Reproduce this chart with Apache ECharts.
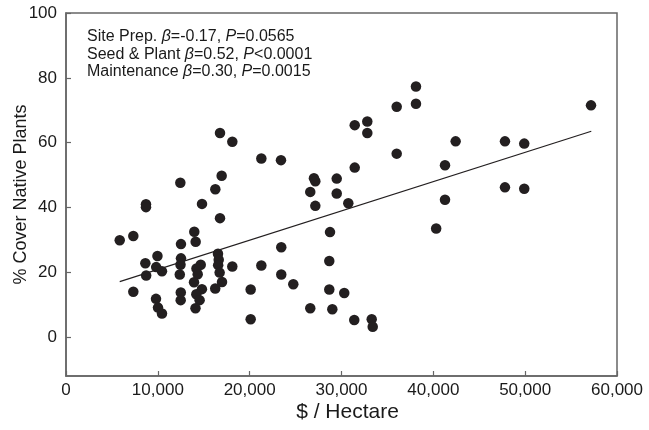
<!DOCTYPE html>
<html>
<head>
<meta charset="utf-8">
<script src="https://cdn.jsdelivr.net/npm/echarts@6/dist/echarts.min.js"></script>
<style>
  html, body { margin: 0; padding: 0; background: #fff; }
  #chart { width: 649px; height: 430px; }
</style>
</head>
<body>
<div id="chart"></div>
<script>
// $ per hectare vs % cover of native plants
var costX = [
  16770, 18110, 21270, 16950, 12450, 16260, 8710, 8710, 14810, 16770,
  5850, 7330, 13970, 14120, 12520, 9960, 8640, 9820, 10450, 8730,
  12520, 12470, 12390, 14670, 14210, 14340, 16550, 16630, 16570, 16730,
  16990, 16250, 18110, 21270, 13940, 14800, 14190, 14550, 14100, 12500,
  12490, 7330, 9800, 10020, 10450, 20110, 20110, 38110, 38110, 36010,
  31440, 32810, 32810, 36010, 23410, 31440, 27000, 27150, 29480, 26600,
  29480, 27150, 30740, 40310, 28750, 23440, 28670, 23440, 24750, 28670,
  30300, 26600, 29000, 31390, 33290, 33400, 57170, 42430, 47800, 49900,
  41270, 41270, 47800, 49900
];
var coverY = [
  63.0, 60.3, 55.1, 49.8, 47.6, 45.6, 41.0, 40.1, 41.1, 36.7,
  29.9, 31.2, 32.5, 29.4, 28.7, 25.0, 22.8, 21.6, 20.3, 19.0,
  24.3, 22.3, 19.3, 22.3, 21.2, 19.4, 25.7, 23.9, 22.2, 19.9,
  17.0, 15.0, 21.8, 22.1, 16.9, 14.8, 13.2, 11.4, 8.9, 13.8,
  11.4, 14.0, 11.8, 9.1, 7.3, 14.7, 5.5, 77.3, 72.0, 71.1,
  65.4, 66.5, 63.0, 56.6, 54.6, 52.3, 49.0, 48.1, 48.9, 44.8,
  44.3, 40.5, 41.3, 33.5, 32.4, 27.7, 23.5, 19.3, 16.3, 14.7,
  13.6, 8.9, 8.6, 5.3, 5.5, 3.2, 71.5, 60.4, 60.4, 59.7,
  53.0, 42.4, 46.2, 45.8
];
// fitted line end points
var fitX = [5850, 57200];
var fitY = [17.1, 63.5];

var yTicks = [0, 20, 40, 60, 80, 100];

var statLines = [
  'Site Prep. {i|β}=-0.17, {i|P}=0.0565',
  'Seed & Plant {i|β}=0.52, {i|P}<0.0001',
  'Maintenance {i|β}=0.30, {i|P}=0.0015'
];

var points = costX.map(function (x, i) { return [x, coverY[i]]; });
var fit = fitX.map(function (x, i) { return [x, fitY[i]]; });

var chart = echarts.init(document.getElementById('chart'));
var font = 'Liberation Sans, Arial, sans-serif';
var ink = '#1a1a1a';
chart.setOption({
  animation: false,
  textStyle: { fontFamily: font },
  title: {
    text: statLines.join('\n'),
    left: 82,
    top: 23,
    textStyle: {
      fontFamily: font,
      fontSize: 16,
      fontWeight: 'normal',
      color: ink,
      lineHeight: 17.5,
      rich: {
        i: { fontFamily: font, fontSize: 16, fontStyle: 'italic', color: ink, lineHeight: 17.5 }
      }
    }
  },
  grid: {
    left: 66, right: 32, top: 13, bottom: 54,
    show: true, borderColor: '#666', borderWidth: 1.5
  },
  xAxis: {
    type: 'value',
    min: 0, max: 60000, interval: 10000,
    name: '$ / Hectare',
    nameLocation: 'middle',
    nameGap: 26,
    nameMoveOverlap: false,
    nameTextStyle: { fontFamily: font, fontSize: 21, color: ink, padding: [0, 0, 0, 12] },
    axisLine: { show: true, onZero: false, lineStyle: { color: '#666', width: 1.5 } },
    axisTick: { show: true, inside: true, length: 5, lineStyle: { color: '#666', width: 1.2 } },
    axisLabel: {
      fontFamily: font, fontSize: 17, color: ink, margin: 6,
      formatter: function (v) { return v.toString().replace(/\B(?=(\d{3})+(?!\d))/g, ','); }
    },
    splitLine: { show: false }
  },
  yAxis: {
    type: 'value',
    min: -12, max: 100,
    name: '% Cover Native Plants',
    nameLocation: 'middle',
    nameGap: 36,
    nameRotate: 90,
    nameMoveOverlap: false,
    nameTextStyle: { fontFamily: font, fontSize: 18, color: ink },
    axisLine: { show: true, onZero: false, lineStyle: { color: '#666', width: 1.5 } },
    axisTick: { show: true, inside: true, length: 5, customValues: yTicks, lineStyle: { color: '#666', width: 1.2 } },
    axisLabel: { fontFamily: font, fontSize: 17, color: ink, margin: 9, customValues: yTicks },
    splitLine: { show: false }
  },
  series: [
    {
      type: 'scatter',
      data: points,
      symbol: 'circle',
      symbolSize: 10.5,
      itemStyle: { color: '#231f20', opacity: 1 }
    },
    {
      type: 'line',
      data: fit,
      symbol: 'none',
      lineStyle: { color: '#231f20', width: 1.2 },
      z: 1
    }
  ]
});
</script>
</body>
</html>
